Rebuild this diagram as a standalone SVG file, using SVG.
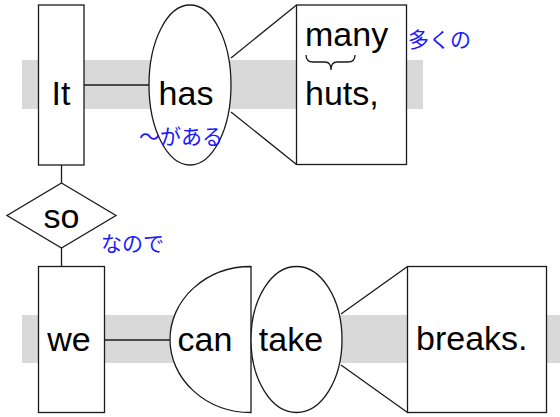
<svg xmlns="http://www.w3.org/2000/svg" width="560" height="417" viewBox="0 0 560 417">
<style>
.band{fill:#d9d9d9}
.n{fill:#fff;stroke:#1a1a1a;stroke-width:1.3}
.c{stroke:#1a1a1a;stroke-width:1.3;fill:none}
.t{font-family:"Liberation Sans",Arial,sans-serif;font-size:34px;fill:#000}
.j{font-family:"Liberation Sans","Noto Sans CJK JP",sans-serif;font-size:21px;fill:#1a1aff}
</style>
<rect class="band" x="22" y="60" width="401" height="49"/>
<rect class="band" x="22" y="315" width="538" height="48"/>
<g id="connectors">
<line class="c" x1="84" y1="85" x2="150" y2="85"/>
<line class="c" x1="231" y1="58" x2="296.5" y2="5"/>
<line class="c" x1="231" y1="112" x2="296.5" y2="164.5"/>
<line class="c" x1="61.5" y1="165" x2="61.5" y2="183"/>
<line class="c" x1="61.5" y1="248" x2="61.5" y2="267"/>
<line class="c" x1="104" y1="340" x2="171" y2="340"/>
<line class="c" x1="341" y1="314" x2="407.5" y2="266.5"/>
<line class="c" x1="341" y1="365" x2="407.5" y2="412.5"/>
</g>
<g id="it"><rect class="n" x="38.5" y="5" width="45.5" height="160"/><text class="t" x="61" y="105" text-anchor="middle">It</text></g>
<g id="has"><ellipse class="n" cx="190" cy="85" rx="41" ry="80"/><text class="t" x="186" y="105" text-anchor="middle">has</text><text class="j" x="139" y="144">～がある</text></g>
<g id="huts"><rect class="n" x="296.5" y="5" width="110" height="159.5"/><text class="t" x="305" y="46">many</text><path class="c" d="M306,55 Q306,62 313,62 L325,62 Q331,62 331,70 Q331,62 337,62 L348,62 Q355,62 355,55" stroke-width="1.1"/><text class="t" x="305" y="105">huts,</text><text class="j" x="408" y="47">多くの</text></g>
<g id="so"><polygon class="n" points="61.5,183 116,215.5 61.5,248 7,215.5"/><text class="t" x="61.5" y="228" text-anchor="middle">so</text><text class="j" x="101" y="251">なので</text></g>
<g id="we"><rect class="n" x="38.5" y="266.5" width="66" height="146"/><text class="t" x="69" y="351" text-anchor="middle">we</text></g>
<g id="can"><path class="n" d="M251,266.5 A81,73 0 0 0 251,412.5 Z"/><text class="t" x="205" y="351" text-anchor="middle">can</text></g>
<g id="take"><ellipse class="n" cx="296.5" cy="339.5" rx="45.5" ry="73"/><text class="t" x="291" y="351" text-anchor="middle">take</text></g>
<g id="breaks"><rect class="n" x="407.5" y="266.5" width="139" height="146"/><text class="t" x="416" y="350">breaks.</text></g>
</svg>
